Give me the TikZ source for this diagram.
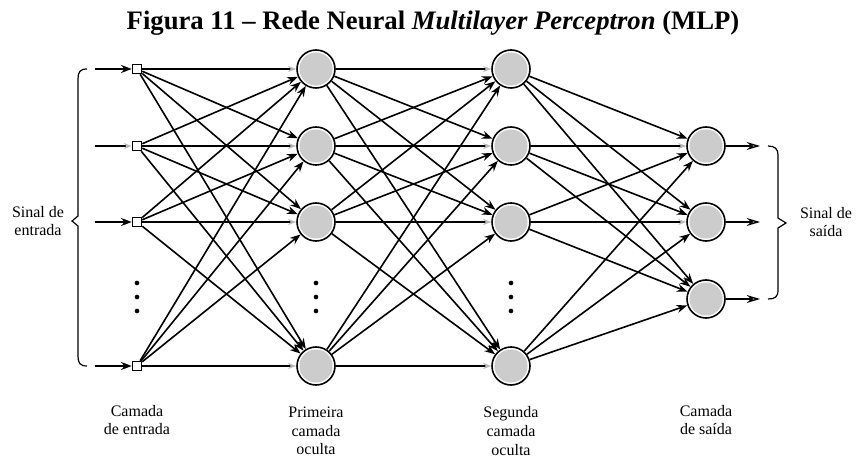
\documentclass[tikz,border=0pt]{standalone}
\usepackage{fontspec}
\setmainfont{Liberation Serif}
\usetikzlibrary{arrows.meta}
\begin{document}
\begin{tikzpicture}[x=0.75pt,y=-0.75pt,
  neuron/.style={circle,draw,line width=1.2pt,fill=white,minimum size=28.5pt,inner sep=0pt,
    path picture={\fill[gray!40] (path picture bounding box.center) circle (12.4pt);}},
  inbox/.style={rectangle,draw,line width=0.9pt,fill=white,minimum size=7pt,inner sep=0pt},
  link/.style={line width=1.2pt,-{Stealth[length=8pt,width=6pt]}},
  flat/.style={line width=1.2pt,-{Stealth[length=6pt,width=4.5pt,gray!55]}},
  outlink/.style={line width=1pt,-{Stealth[length=10pt,width=6pt,fill=gray!45]}},
  lbl/.style={align=center,font=\fontsize{12}{14}\selectfont},
  dot/.style={circle,fill,inner sep=0pt,minimum size=3.5pt}]
\useasboundingbox (0,0) rectangle (856,459);

% title
\node[font=\bfseries\fontsize{20}{24}\selectfont] (title) at (433,23)
  {Figura 11 -- Rede Neural \textit{Multilayer Perceptron} (MLP)};

% input, first and second hidden layers
\foreach \n/\y in {1/69,2/146,3/222,4/366} {
  \node[inbox] (i\n) at (137,\y) {};
  \node[neuron] (a\n) at (316,\y) {};
  \node[neuron] (b\n) at (511,\y) {};
  \coordinate (s\n) at (95,\y);
}
% output layer
\foreach \n/\y in {1/146,2/222,3/299} {
  \node[neuron] (o\n) at (706,\y) {};
  \coordinate (e\n) at (760,\y);
}

% vertical ellipses
\foreach \x in {137,316,511} {
  \foreach \y in {283,297,311} \node[dot] at (\x,\y) {};
}

% fully connected layers
\foreach \s in {1,...,4} {
  \foreach \t in {1,...,4} {
    \ifnum\s=\t\relax
      \draw[flat] (i\s) -- (a\t);
      \draw[flat] (a\s) -- (b\t);
    \else
      \draw[link] (i\s) -- (a\t);
      \draw[link] (a\s) -- (b\t);
    \fi
  }
}
\foreach \s/\t in {1/1,1/2,1/3,2/2,2/3,3/1,3/3,4/1,4/2,4/3}
  \draw[link] (b\s) -- (o\t);
\draw[flat] (b2) -- (o1);
\draw[flat] (b3) -- (o2);

% input signals
\foreach \n in {1,3,4} \draw[link] (s\n) -- (i\n);
\draw[flat] (s2) -- (i2);

% output signals
\foreach \n in {1,2,3} \draw[outlink] (o\n) -- (e\n);

% left brace
\draw[line width=0.9pt] (87,69) .. controls (80,69) and (78,72) .. (78,79)
  -- (78,216) -- (72,221) -- (78,226) -- (78,356)
  .. controls (78,363) and (80,366) .. (87,366);
% right brace
\draw[line width=0.9pt] (768,146) .. controls (775,146) and (778,149) .. (778,155)
  -- (778,218) -- (786,223) -- (778,228) -- (778,290)
  .. controls (778,297) and (775,299) .. (768,299);

% labels
\node[lbl] (sin) at (38,221) {Sinal de\\entrada};
\node[lbl] (sout) at (826,222) {Sinal de\\saída};
\node[lbl] (tin) at (137,420) {Camada\\de entrada};
\node[lbl] (th1) at (316,431) {Primeira\\camada\\oculta};
\node[lbl] (th2) at (511,431) {Segunda\\camada\\oculta};
\node[lbl] (tout) at (706,420) {Camada\\de saída};
\end{tikzpicture}
\end{document}
